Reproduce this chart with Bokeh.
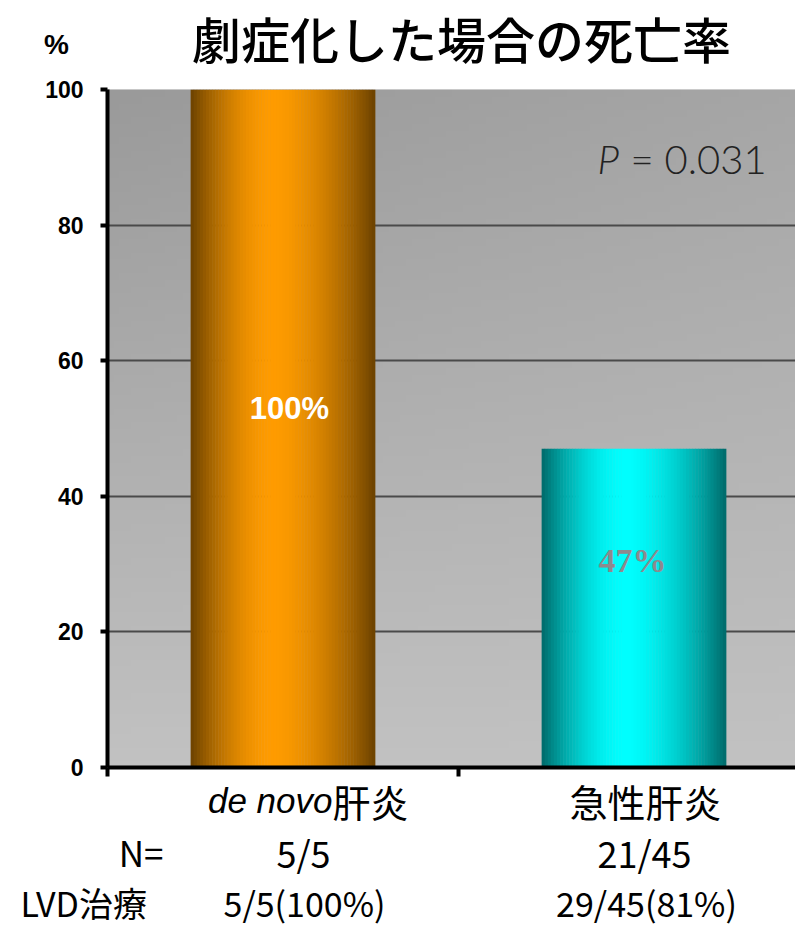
import numpy as np
from bokeh.plotting import figure
from bokeh.layouts import column
from bokeh.models import Range1d, FixedTicker, ColumnDataSource
from bokeh.core.properties import value
from bokeh.embed import file_html
from bokeh.resources import INLINE

# ---- data ----
categories = ["de novo肝炎", "急性肝炎"]
cat_italic = "de novo"
cat_plain = ["肝炎", "急性肝炎"]
mortality = [100, 47]
value_labels = ["100%", "47%"]
n_labels = ["5/5", "21/45"]
lvd_labels = ["5/5(100%)", "29/45(81%)"]
row_heads = ["N=", "LVD治療"]
y_ticks = [0, 20, 40, 60, 80, 100]
title_text = "劇症化した場合の死亡率"
unit_text = "%"
p_symbol = "P"
p_value = "= 0.031"

JP = "Noto Sans CJK JP"
W = 795
LEFT = 107
PX_PER_CAT = 351.0
X_END = (W - LEFT) / PX_PER_CAT
X_START_FULL = -LEFT / PX_PER_CAT


def px(xp):
    return (xp - LEFT) / PX_PER_CAT


def blank_fig(h, transparent=False):
    f = figure(width=W, height=h, output_backend="svg", toolbar_location=None,
               title=None,
               x_range=Range1d(X_START_FULL, X_END), y_range=Range1d(0, h),
               x_axis_type=None, y_axis_type=None, min_border=0,
               frame_align=False,
               outline_line_color=None, background_fill_color="white",
               border_fill_color="white")
    if transparent:
        f.background_fill_alpha = 0
        f.border_fill_alpha = 0
    f.xgrid.visible = False
    f.ygrid.visible = False
    return f


# ---- top: title ----
TOP_H = 75
top = blank_fig(TOP_H)
top.text(x=[px(461)], y=[TOP_H - 37], text=[title_text],
         text_font=value("Noto Sans CJK JP Medium"),
         text_font_size="49px", text_align="center", text_baseline="middle",
         text_color="black")
top.text(x=[px(56)], y=[TOP_H - 44], text=[unit_text],
         text_font=value("Liberation Sans"), text_font_style="bold",
         text_font_size="28px", text_align="center", text_baseline="middle",
         text_color="black")

# ---- main chart ----
MAIN_H = 706
p = figure(width=W, height=MAIN_H, output_backend="svg", toolbar_location=None,
           title=None,
           x_range=Range1d(0, X_END), y_range=Range1d(0, 100),
           min_border_left=LEFT, min_border_right=0, min_border_top=14,
           min_border_bottom=14, outline_line_color=None, frame_align=False,
           background_fill_color="#b0b0b0", border_fill_color="white")

# background gradient
GH, GW = 100, 120
yy, xx = np.mgrid[0:GH, 0:GW]
yn = yy / (GH - 1)
xn = xx / (GW - 1)
v = (194 - 40 * yn + 12 * xn * yn).astype(np.uint32)
img = np.empty((GH, GW), dtype=np.uint32)
view = img.view(dtype=np.uint8).reshape((GH, GW, 4))
view[:, :, 0] = v
view[:, :, 1] = v
view[:, :, 2] = v
view[:, :, 3] = 255
p.image_rgba(image=[img], x=0, y=0, dw=X_END, dh=100, level="image")

# bars with horizontal gradient (stripes)
centers = [0.5 + i for i in range(len(categories))]
bar_w = 0.525
palettes = [((0x6c, 0x42, 0x00), (0xff, 0x9c, 0x00), -0.12),
            ((0x00, 0x6a, 0x6a), (0x00, 0xff, 0xff), -0.1)]
n_str = 60
for c, val, (dark, bright, t0) in zip(centers, mortality, palettes):
    ts = np.linspace(-1, 1, n_str, endpoint=False) + 1.0 / n_str
    xs, cols = [], []
    for t in ts:
        d = (t0 - t) / (1 + t0) if t < t0 else (t - t0) / (1 - t0)
        d = min(abs(d), 1.0)
        f = max(0.0, 1 - d ** 1.7)
        col = tuple(int(dark[k] + (bright[k] - dark[k]) * f) for k in range(3))
        xs.append(c + t * bar_w / 2)
        cols.append("#%02x%02x%02x" % col)
    src = ColumnDataSource(dict(x=xs, top=[val] * n_str, color=cols))
    p.vbar(x="x", width=bar_w / n_str * 1.15, top="top", bottom=0,
           fill_color="color", line_color=None, source=src)

# axes
p.yaxis.ticker = FixedTicker(ticks=y_ticks)
p.yaxis.axis_line_width = 4
p.yaxis.axis_line_color = "black"
p.yaxis.major_tick_line_width = 4
p.yaxis.major_tick_out = 7
p.yaxis.major_tick_in = 0
p.yaxis.minor_tick_line_color = None
p.yaxis.major_label_text_font = "Liberation Sans"
p.yaxis.major_label_text_font_style = "bold"
p.yaxis.major_label_text_font_size = "23px"
p.yaxis.major_label_text_color = "black"
p.yaxis.major_label_standoff = 17

# category boundaries drawn as unlabeled (minor) ticks
p.xaxis.ticker = FixedTicker(ticks=[], minor_ticks=[0, 1, 2])
p.xaxis.axis_line_width = 4
p.xaxis.axis_line_color = "black"
p.xaxis.minor_tick_line_color = "black"
p.xaxis.minor_tick_line_width = 4
p.xaxis.minor_tick_out = 9
p.xaxis.minor_tick_in = 0

p.xgrid.grid_line_color = None
p.ygrid.ticker = FixedTicker(ticks=y_ticks[1:])
p.ygrid.grid_line_color = "#4a4a4a"
p.ygrid.grid_line_width = 2

# P value
p.text(x=[px(597)], y=[(767 - 158) / 6.78], text=[p_symbol],
       text_font=value("Lato Light"), text_font_style="italic",
       text_font_size="40px", text_align="left", text_baseline="middle",
       text_color="#222222")
p.text(x=[px(630)], y=[(767 - 158) / 6.78], text=[p_value],
       text_font=value("Lato Light"), text_font_size="40px",
       text_align="left", text_baseline="middle", text_color="#222222")

# value labels inside bars
p.text(x=[px(289)], y=[(767 - 408) / 6.78], text=[value_labels[0]],
       text_font=value("Liberation Sans"), text_font_style="bold",
       text_font_size="31px", text_align="center", text_baseline="middle",
       text_color="white")
p.text(x=[px(632)], y=[(767 - 560) / 6.78], text=[value_labels[1]],
       text_font=value("Liberation Serif"), text_font_style="bold",
       text_font_size="34px", text_align="center", text_baseline="middle",
       text_color="#8c8a8e")

# ---- bottom: category and count rows (overlaps main border, transparent) ----
OVERLAP = 10
BOT_H = 927 - TOP_H - MAIN_H + OVERLAP
bot = blank_fig(BOT_H, transparent=True)
bot.margin = (-OVERLAP, 0, 0, 0)


def py(ypix):
    return 927 - ypix


bot.text(x=[px(332)], y=[py(800)], text=[cat_italic],
         text_font=value("Liberation Sans"), text_font_style="italic",
         text_font_size="35px", text_align="right", text_baseline="middle",
         text_color="black")
bot.text(x=[px(332)], y=[py(800)], text=[cat_plain[0]], text_font=value(JP),
         text_font_size="38px", text_align="left", text_baseline="middle",
         text_color="black")
bot.text(x=[px(645)], y=[py(800)], text=[cat_plain[1]], text_font=value(JP),
         text_font_size="38px", text_align="center", text_baseline="middle",
         text_color="black")

bot.text(x=[px(163)], y=[py(851)], text=[row_heads[0]], text_font=value(JP),
         text_font_size="35px", text_align="right", text_baseline="middle",
         text_color="black")
bot.text(x=[px(303), px(644)], y=[py(851)] * 2, text=n_labels,
         text_font=value(JP), text_font_size="36px", text_align="center",
         text_baseline="middle", text_color="black")

bot.text(x=[px(20)], y=[py(902)], text=[row_heads[1]], text_font=value(JP),
         text_font_size="34px", text_align="left", text_baseline="middle",
         text_color="black")
bot.text(x=[px(304), px(646)], y=[py(902)] * 2, text=lvd_labels,
         text_font=value(JP), text_font_size="34px", text_align="center",
         text_baseline="middle", text_color="black")

layout = column(top, p, bot, spacing=0)
open("out.html", "w").write(file_html(layout, INLINE))
